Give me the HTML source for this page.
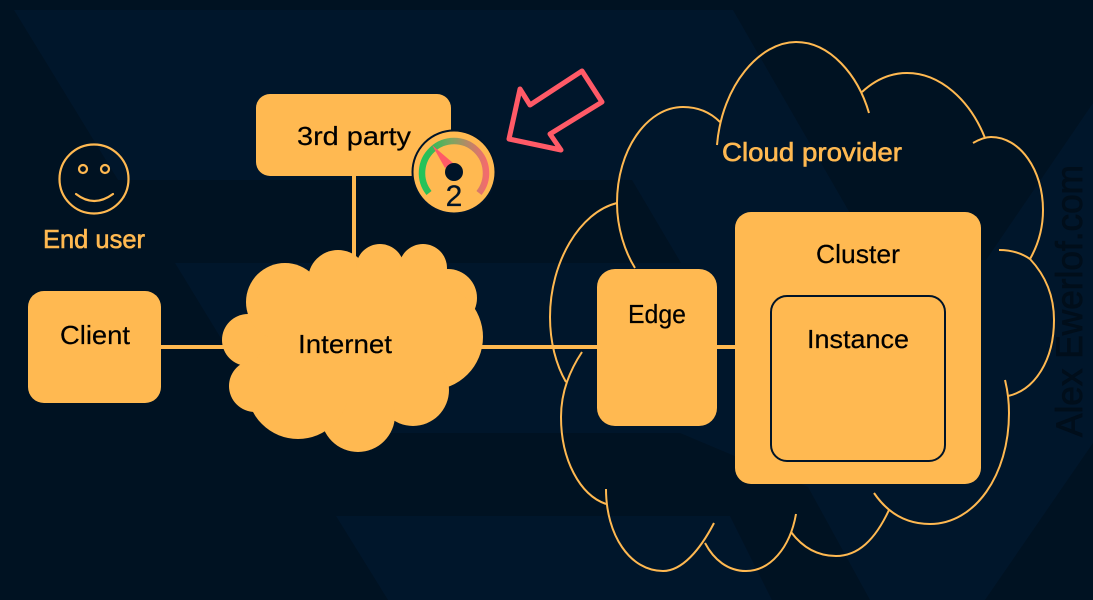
<!DOCTYPE html>
<html>
<head>
<meta charset="utf-8">
<style>
html,body{margin:0;padding:0;background:#00162b;width:1093px;height:600px;overflow:hidden}
svg{display:block}
text{font-family:"Liberation Sans",sans-serif}
</style>
</head>
<body>
<svg width="1093" height="600" viewBox="0 0 1093 600" xmlns="http://www.w3.org/2000/svg">
<defs>
<linearGradient id="g" gradientUnits="userSpaceOnUse" x1="422" y1="0" x2="486" y2="0">
<stop offset="0" stop-color="#22c45a"/>
<stop offset="0.12" stop-color="#2dbd58"/>
<stop offset="0.45" stop-color="#7ba660"/>
<stop offset="0.7" stop-color="#b28a66"/>
<stop offset="1" stop-color="#f26c6c"/>
</linearGradient>
</defs>
<rect width="1093" height="600" fill="#00162b"/>
<path fill="#001222" d="M0,0H1093V103L986,260H877L733,10H14L118,180H632L681,263H175L225,345L281,433H680L808,487L870,600H772L730,516H336L388,600H0Z"/>
<path fill="#001222" d="M1093,443V600H985Z"/>
<text transform="translate(1082,437) rotate(-90)" font-size="37" fill="#000e1b" stroke="#000e1b" stroke-width="0.8" textLength="272" lengthAdjust="spacingAndGlyphs">Alex Ewerlof.com</text>

<g stroke="#ffb951" stroke-width="4" fill="none">
<path d="M354,176V260"/>
<path d="M161,347H230"/>
<path d="M480,347H597"/>
<path d="M717,347H735"/>
</g>

<g fill="none" stroke="#ffb951" stroke-width="2">
<path d="M717,145C722,85 760,42 796,42C830,42 858,75 869,113"/>
<path d="M862,92C875,80 890,73 907,73C940,73 970,100 985,138"/>
<path d="M973,143C980,139 986,137 991,137C1020,137 1043,170 1043,210C1043,228 1038,245 1030,259"/>
<path d="M999,250C1010,250 1020,252 1030,259C1045,275 1054,295 1054,320C1054,360 1035,390 1008,396"/>
<path d="M1005,380C1008,392 1009,402 1009,413C1009,475 975,524 930,524C905,524 887,512 874,493"/>
<path d="M889,510C875,540 858,556 836,556C818,556 803,548 791,532"/>
<path d="M796,514C790,548 770,571 746,571C728,571 714,560 705,543"/>
<path d="M714,523C700,550 682,571 663,571C630,571 606,535 606,489"/>
<path d="M606,504C580,495 561,460 561,417C561,392 570,370 582,352"/>
<path d="M566,382C556,365 550,342 550,317C550,262 580,212 617,203"/>
<path d="M635,268C625,252 617,228 617,203C617,150 647,107 683,107C697,107 710,112 720,122"/>
</g>

<g fill="#ffb951">
<circle cx="248" cy="340" r="26"/>
<circle cx="285" cy="302" r="39"/>
<circle cx="338" cy="280" r="30"/>
<circle cx="380" cy="268" r="24"/>
<circle cx="423" cy="268" r="24"/>
<circle cx="448" cy="298" r="29"/>
<circle cx="430" cy="337" r="53"/>
<circle cx="413" cy="390" r="36"/>
<circle cx="358" cy="415" r="37"/>
<circle cx="298" cy="388" r="51"/>
<circle cx="255" cy="386" r="26"/>
<rect x="270" y="272" width="170" height="130"/>
<rect x="256" y="94" width="195" height="82" rx="14"/>
<rect x="28" y="291" width="133" height="112" rx="16"/>
<rect x="597" y="269" width="120" height="157" rx="18"/>
<rect x="735" y="212" width="246" height="272" rx="16"/>
</g>
<rect x="771" y="296" width="174" height="165" rx="16" fill="#ffb951" stroke="#001428" stroke-width="2"/>

<g fill="#000" font-size="26" stroke="#000" stroke-width="0.2">
<text x="297" y="145" textLength="114" lengthAdjust="spacingAndGlyphs">3rd party</text>
<text x="60" y="344" textLength="70" lengthAdjust="spacingAndGlyphs">Client</text>
<text x="298" y="353" textLength="94" lengthAdjust="spacingAndGlyphs">Internet</text>
<text x="628" y="323" textLength="58" lengthAdjust="spacingAndGlyphs">Edge</text>
<text x="816" y="263" textLength="84" lengthAdjust="spacingAndGlyphs">Cluster</text>
<text x="807" y="348" textLength="102" lengthAdjust="spacingAndGlyphs">Instance</text>
</g>
<g fill="#ffb951" stroke="#ffb951" stroke-width="0.6" font-size="26">
<text x="722" y="161" textLength="180" lengthAdjust="spacingAndGlyphs">Cloud provider</text>
<text x="43" y="248" textLength="102" lengthAdjust="spacingAndGlyphs">End user</text>
</g>

<g fill="none" stroke="#ffb951" stroke-width="2.2">
<circle cx="94" cy="179" r="34.5"/>
<circle cx="83" cy="169" r="4"/>
<circle cx="105" cy="169" r="4"/>
<path d="M76,194Q94,208 113,194" stroke-linecap="round"/>
</g>

<circle cx="454" cy="172" r="41.5" fill="#ffb951" stroke="#001428" stroke-width="2"/>
<path d="M429,193A32,32 0 1 1 479,193" fill="none" stroke="url(#g)" stroke-width="6.5"/>
<polygon points="432,145 453,163 445,168" fill="#ff5a67"/>
<circle cx="454" cy="172" r="9" fill="#001428"/>
<text x="454" y="206" font-size="30" fill="#001428" stroke="#001428" stroke-width="0.3" text-anchor="middle">2</text>

<polygon points="582,71 602,102 550,134 561,150 509,139 520,89 530,105" fill="none" stroke="#ff5a67" stroke-width="5" stroke-linejoin="round"/>
</svg>
</body>
</html>
